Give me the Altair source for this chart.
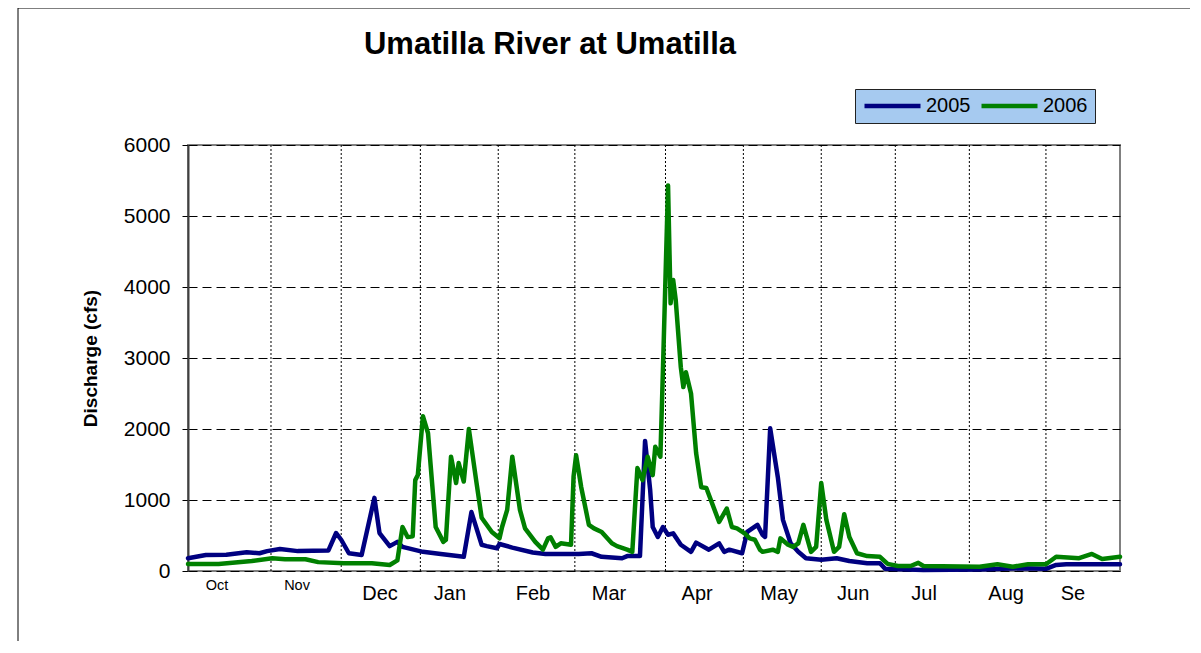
import altair as alt
import pandas as pd

# ---- data (day of water year starting 1 Oct, discharge cfs)
days_2005 = [0, 7, 15, 23, 28, 31, 36, 43, 55, 58, 60, 63, 68, 73, 75, 79, 82, 84, 92, 99,
             108, 111, 115, 117, 121, 122, 127, 135, 140, 153, 158, 162, 170, 172, 177, 179,
             181, 182, 184, 186, 188, 190, 193, 197, 199, 204, 208, 210, 212, 217, 219, 221,
             223, 225, 226, 228, 231, 233, 236, 239, 242, 248, 254, 259, 266, 271, 273, 288,
             310, 327, 336, 340, 344, 365]
cfs_2005 = [180, 225, 230, 265, 250, 280, 310, 280, 290, 535, 440, 250, 225, 1030, 535, 350,
            410, 340, 270, 240, 200, 830, 370, 350, 320, 380, 330, 260, 240, 240, 250, 200,
            180, 210, 210, 1830, 1140, 620, 480, 620, 510, 530, 370, 270, 400, 300, 390, 270,
            300, 250, 550, 600, 650, 510, 480, 2010, 1320, 720, 390, 270, 180, 160, 180, 140,
            110, 110, 30, 15, 20, 40, 30, 85, 95, 95]

days_2006 = [0, 12, 25, 33, 38, 46, 51, 61, 72, 79, 82, 84, 86, 88, 89, 90, 92, 94, 97, 100,
             101, 103, 105, 106, 108, 110, 113, 115, 119, 122, 123, 125, 127, 130, 132, 136,
             139, 141, 142, 144, 146, 148, 150, 151, 152, 154, 157, 159, 162, 166, 168, 172,
             174, 176, 178, 180, 182, 183, 185, 186, 188, 189, 190, 191, 193, 194, 195, 197,
             199, 201, 203, 208, 211, 213, 215, 218, 220, 222, 224, 225, 229, 231, 232, 235,
             237, 239, 241, 244, 246, 248, 250, 253, 255, 257, 259, 262, 266, 271, 274, 278,
             283, 286, 288, 310, 317, 323, 329, 336, 340, 349, 354, 358, 365]
cfs_2006 = [100, 100, 140, 180, 165, 165, 125, 110, 110, 85, 150, 620, 480, 490, 1280, 1350,
            2180, 1940, 620, 410, 440, 1610, 1240, 1520, 1260, 2000, 1240, 750, 550, 460, 620,
            860, 1610, 860, 600, 410, 300, 460, 475, 340, 390, 380, 370, 1330, 1630, 1180,
            650, 600, 550, 390, 350, 300, 270, 1450, 1280, 1610, 1350, 1750, 1610, 2830, 5430,
            3770, 4100, 3820, 2870, 2590, 2800, 2500, 1660, 1180, 1170, 690, 880, 620, 600,
            530, 460, 440, 300, 270, 300, 270, 460, 370, 340, 390, 650, 270, 340, 1240, 720,
            270, 340, 800, 480, 250, 210, 200, 100, 70, 70, 115, 70, 60, 95, 60, 95, 95, 200,
            180, 240, 170, 200]

grid_days = [32.5, 60, 91, 121.5, 151.5, 187, 217.5, 248, 277, 306, 336]

small_month_labels = ["Oct", "Nov"]
small_month_days = [11.4, 42.7]
month_labels = ["Dec", "Jan", "Feb", "Mar", "Apr", "May", "Jun", "Jul", "Aug", "Se"]
month_days = [75.2, 102.6, 135.1, 164.9, 199.4, 231.5, 260.5, 288.3, 320.4, 346.6]

chart_title = ["Umatilla River at Umatilla"]

years = ["2005", "2006"]
colors = ["#000080", "#008000"]
y_ticks = [0, 1000, 2000, 3000, 4000, 5000, 6000]

FONT = "Liberation Sans"
W, H = 932, 426

flow = pd.concat([
    pd.DataFrame({"day": days_2005, "cfs": cfs_2005, "year": "2005"}),
    pd.DataFrame({"day": days_2006, "cfs": cfs_2006, "year": "2006"}),
])

xscale = alt.Scale(domain=[0, 365], nice=False, zero=False)
yscale = alt.Scale(domain=[0, 6000], nice=False)

frame = alt.Chart(pd.DataFrame({"a": [0]})).mark_rect(
    fill=None, stroke="#000000", strokeWidth=1
).encode(x=alt.value(-170), y=alt.value(-137), x2=alt.value(1100), y2=alt.value(620))

title_text = alt.Chart(pd.DataFrame({"t": chart_title})).mark_text(
    font=FONT, fontSize=31, fontWeight="bold", color="#000000",
    align="center", baseline="middle"
).encode(x=alt.value(362), y=alt.value(-100), text="t:N")

vgrid = alt.Chart(pd.DataFrame({"day": grid_days})).mark_rule(
    color="#000000", strokeWidth=1, strokeDash=[2, 2]
).encode(x=alt.X("day:Q", scale=xscale, axis=None))

lines = alt.Chart(flow).mark_line(strokeWidth=4.5, strokeJoin="round", strokeCap="round").encode(
    x=alt.X("day:Q", scale=xscale, axis=None),
    y=alt.Y("cfs:Q", scale=yscale,
            axis=alt.Axis(title="Discharge (cfs)", values=y_ticks, format="d")),
    color=alt.Color("year:N", scale=alt.Scale(domain=years, range=colors),
                    legend=alt.Legend(title=None)),
)

small_text = alt.Chart(pd.DataFrame({"day": small_month_days, "m": small_month_labels})).mark_text(
    font=FONT, fontSize=14.5, color="#000000", baseline="middle", align="center"
).encode(x=alt.X("day:Q", scale=xscale, axis=None), y=alt.value(441), text="m:N")

big_text = alt.Chart(pd.DataFrame({"day": month_days, "m": month_labels})).mark_text(
    font=FONT, fontSize=20, color="#000000", baseline="middle", align="center"
).encode(x=alt.X("day:Q", scale=xscale, axis=None), y=alt.value(449), text="m:N")

chart = alt.layer(frame, title_text, vgrid, lines, small_text, big_text).properties(
    width=W, height=H,
    autosize=alt.AutoSizeParams(type="none"),
    padding={"left": 180, "top": 137, "right": 70, "bottom": 70},
).configure_view(
    stroke="#808080", strokeWidth=2
).configure_axisY(
    labelFont=FONT, labelFontSize=21, labelColor="#000000", labelPadding=12,
    tickColor="#000000", tickSize=6, tickWidth=1,
    domainColor="#404040", domainWidth=2,
    grid=True, gridColor="#000000", gridDash=[9, 5], gridWidth=1,
    titleFont=FONT, titleFontSize=19, titleFontWeight="bold", titleColor="#000000",
    titleX=-98, titleY=H / 2, titleAngle=270, titleBaseline="middle", titleAlign="center",
).configure_legend(
    orient="none", legendX=667, legendY=-56, direction="horizontal",
    fillColor="#A6CAF0", strokeColor="#222222", padding=7,
    symbolType="stroke", symbolSize=3136, symbolStrokeWidth=4.5, clipHeight=20,
    labelFont=FONT, labelFontSize=20, labelColor="#000000", labelOffset=3,
    columnPadding=8,
)

chart.save("out.html", embed_options={"renderer": "svg", "actions": False})
